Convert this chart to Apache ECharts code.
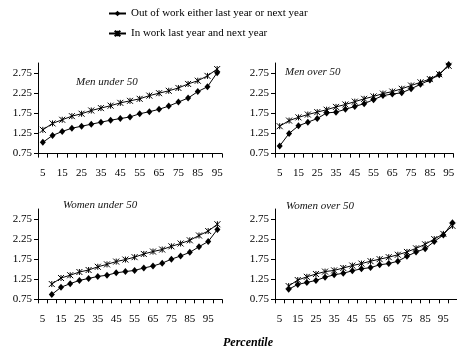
<!DOCTYPE html>
<html>
<head>
<meta charset="utf-8">
<script src="https://cdn.jsdelivr.net/npm/echarts@6/dist/echarts.min.js"></script>
<style>
  html, body { margin: 0; padding: 0; background: #fff; }
  #chart { width: 457px; height: 352px; }
</style>
</head>
<body>
<div id="chart"></div>
<script>
// Earnings-change percentiles, by work status
const percentiles = ['5','10','15','20','25','30','35','40','45','50','55','60','65','70','75','80','85','90','95'];
const yTicks = [0.75, 1.25, 1.75, 2.25, 2.75];

const seriesNames = ['Out of work either last year or next year', 'In work last year and next year'];
const panelTitles = ['Men under 50', 'Men over 50', 'Women under 50', 'Women over 50'];

const menUnder50Out = [1.03,1.20,1.30,1.38,1.43,1.48,1.53,1.58,1.62,1.66,1.74,1.79,1.85,1.93,2.03,2.13,2.29,2.41,2.76];
const menUnder50In  = [1.34,1.50,1.59,1.68,1.74,1.82,1.88,1.94,2.01,2.06,2.11,2.19,2.25,2.31,2.38,2.48,2.56,2.68,2.85];

const menOver50Out = [0.94,1.25,1.44,1.53,1.62,1.76,1.78,1.85,1.92,1.99,2.09,2.19,2.23,2.26,2.36,2.47,2.58,2.71,2.96];
const menOver50In  = [1.43,1.57,1.65,1.72,1.78,1.84,1.91,1.97,2.04,2.11,2.17,2.24,2.29,2.36,2.44,2.52,2.60,2.72,2.93];

const womenUnder50Out = [0.87,1.05,1.14,1.22,1.27,1.32,1.35,1.41,1.44,1.47,1.53,1.58,1.65,1.75,1.83,1.92,2.06,2.19,2.49];
const womenUnder50In  = [1.13,1.28,1.35,1.43,1.48,1.56,1.62,1.69,1.74,1.80,1.88,1.94,1.99,2.07,2.14,2.22,2.34,2.45,2.62];

const womenOver50Out = [1.00,1.12,1.17,1.22,1.30,1.36,1.40,1.46,1.51,1.54,1.61,1.64,1.70,1.82,1.93,2.01,2.19,2.35,2.66];
const womenOver50In  = [1.08,1.23,1.31,1.38,1.44,1.47,1.53,1.59,1.64,1.70,1.75,1.80,1.86,1.93,2.02,2.12,2.25,2.38,2.58];

const FONT = '"Liberation Serif", "DejaVu Serif", serif';
const STAR = 'path://M0,0L6,6M6,0L0,6M3,0L3,6';

// In the lower row the category axis carries one trailing empty slot and the
// plotted values sit one slot to the right of their labels.
const lowerCats = percentiles.concat(['']);
const shifted = arr => [null].concat(arr);

const panels = [
  { left: 38,  top: 63,  height: 90.6, cats: percentiles, out: menUnder50Out,   inw: menUnder50In },
  { left: 275, top: 63,  height: 90.6, cats: percentiles, out: menOver50Out,    inw: menOver50In },
  { left: 38,  top: 209, height: 90.3, cats: lowerCats,   out: shifted(womenUnder50Out), inw: shifted(womenUnder50In) },
  { left: 275, top: 209, height: 90.3, cats: lowerCats,   out: shifted(womenOver50Out),  inw: shifted(womenOver50In) }
];

const titlePos = [
  { left: 76,  top: 77 },
  { left: 285, top: 67 },
  { left: 63,  top: 200 },
  { left: 286, top: 201 }
];

const grids = panels.map(p => ({ left: p.left, top: p.top, width: 184, height: p.height, containLabel: false }));

const xAxes = panels.map((p, i) => ({
  type: 'category',
  gridIndex: i,
  data: p.cats,
  boundaryGap: true,
  axisLine: { show: true, lineStyle: { color: '#000', width: 1 } },
  axisTick: { show: true, interval: 0, length: 4, inside: false, lineStyle: { color: '#000', width: 1 } },
  axisLabel: { interval: 1, margin: 14, color: '#000', fontFamily: FONT, fontSize: 11 },
  splitLine: { show: false }
}));

const yAxes = panels.map((p, i) => ({
  type: 'value',
  gridIndex: i,
  min: 0.75,
  max: 3,
  interval: 0.5,
  axisLine: { show: true, lineStyle: { color: '#000', width: 1 } },
  axisTick: { show: true, length: 4, customValues: yTicks, lineStyle: { color: '#000', width: 1 } },
  axisLabel: {
    customValues: yTicks,
    margin: 6,
    color: '#000',
    fontFamily: FONT,
    fontSize: 11,
    formatter: v => v.toFixed(2)
  },
  splitLine: { show: false }
}));

const series = [];
panels.forEach((p, i) => {
  series.push({
    name: seriesNames[0],
    type: 'line',
    xAxisIndex: i,
    yAxisIndex: i,
    data: p.out,
    symbol: 'diamond',
    symbolSize: [6, 7],
    showSymbol: true,
    showAllSymbol: true,
    color: '#000',
    itemStyle: { color: '#000' },
    lineStyle: { color: '#000', width: 1 }
  });
  series.push({
    name: seriesNames[1],
    type: 'line',
    xAxisIndex: i,
    yAxisIndex: i,
    data: p.inw,
    symbol: STAR,
    symbolSize: 6,
    showSymbol: true,
    showAllSymbol: true,
    color: '#000',
    itemStyle: { color: '#000', borderColor: '#000', borderWidth: 1 },
    lineStyle: { color: '#000', width: 1 }
  });
});

const titles = panelTitles.map((t, i) => ({
  text: t,
  left: titlePos[i].left,
  top: titlePos[i].top,
  padding: 0,
  textStyle: { fontFamily: FONT, fontSize: 11, fontStyle: 'italic', fontWeight: 'normal', color: '#111' }
}));
titles.push({
  text: 'Percentile',
  left: 223,
  top: 337,
  padding: 0,
  textStyle: { fontFamily: FONT, fontSize: 12, fontStyle: 'italic', fontWeight: 'bold', color: '#000' }
});

const chart = echarts.init(document.getElementById('chart'), null, { renderer: 'canvas' });
chart.setOption({
  animation: false,
  backgroundColor: '#fff',
  title: titles,
  legend: {
    data: seriesNames,
    orient: 'vertical',
    left: 108,
    top: 8,
    padding: 0,
    itemWidth: 17,
    itemHeight: 7,
    itemGap: 9,
    textStyle: { fontFamily: FONT, fontSize: 11, color: '#000' }
  },
  grid: grids,
  xAxis: xAxes,
  yAxis: yAxes,
  series: series
});
</script>
</body>
</html>
